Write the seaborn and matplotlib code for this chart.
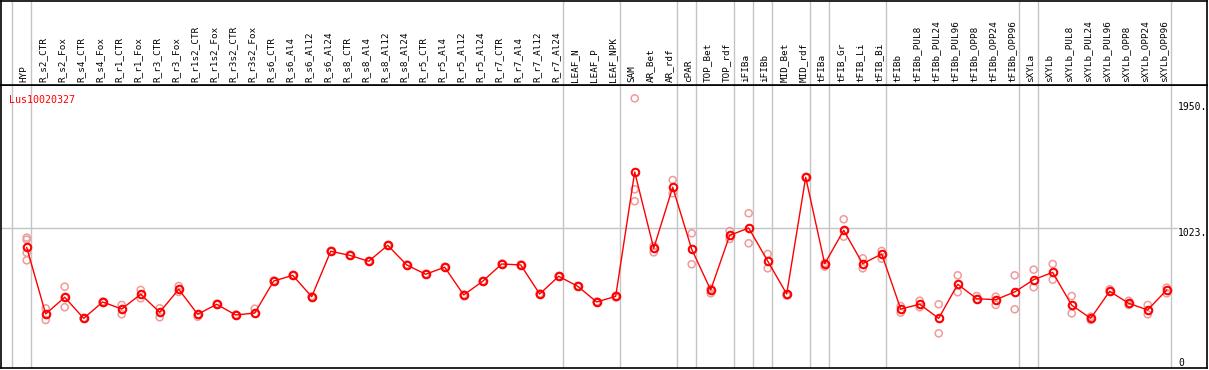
import matplotlib
matplotlib.use("Agg")
import matplotlib.pyplot as plt
import matplotlib.transforms as mtransforms
import seaborn as sns
import numpy as np
import pandas as pd

# sample columns (left to right)
samples = ['HYP', 'R_s2_CTR', 'R_s2_Fox', 'R_s4_CTR', 'R_s4_Fox', 'R_r1_CTR', 'R_r1_Fox',
           'R_r3_CTR', 'R_r3_Fox', 'R_r1s2_CTR', 'R_r1s2_Fox', 'R_r3s2_CTR', 'R_r3s2_Fox',
           'R_s6_CTR', 'R_s6_Al4', 'R_s6_Al12', 'R_s6_Al24', 'R_s8_CTR', 'R_s8_Al4',
           'R_s8_Al12', 'R_s8_Al24', 'R_r5_CTR', 'R_r5_Al4', 'R_r5_Al12', 'R_r5_Al24',
           'R_r7_CTR', 'R_r7_Al4', 'R_r7_Al12', 'R_r7_Al24', 'LEAF_N', 'LEAF_P', 'LEAF_NPK',
           'SAM', 'AR_Bet', 'AR_rdf', 'cPAR', 'TOP_Bet', 'TOP_rdf', 'iFIBa', 'iFIBb',
           'MID_Bet', 'MID_rdf', 'tFIBa', 'tFIB_Gr', 'tFIB_Li', 'tFIB_Bi', 'tFIBb',
           'tFIBb_PUL8', 'tFIBb_PUL24', 'tFIBb_PUL96', 'tFIBb_OPP8', 'tFIBb_OPP24',
           'tFIBb_OPP96', 'sXYLa', 'sXYLb', 'sXYLb_PUL8', 'sXYLb_PUL24', 'sXYLb_PUL96',
           'sXYLb_OPP8', 'sXYLb_OPP24', 'sXYLb_OPP96']

# mean expression per sample
means = [882, 389, 513, 357, 478, 426, 535, 402, 572, 387, 461, 382, 396,
         633, 675, 517, 853, 823, 779, 897, 752, 683, 735, 530, 631,
         759, 752, 537, 668, 594, 478, 520,
         1439, 875, 1326, 868, 567, 971, 1025, 781, 537, 1400,
         761, 1008, 761, 833, 426, 461, 357, 609, 502, 495, 552,
         643, 697, 454, 357, 557, 468, 419, 567]

# replicates (nan = not present)
rep_a = [954, 431, 591, 360, 482, 456, 567, 431, 596, 369, 465, 385, 428,
         636, 678, 520, 856, 826, 782, 900, 755, 686, 738, 533, 634,
         762, 755, 540, 671, 597, 481, 523,
         1984, 892, 1380, 986, 576, 1003, 1134, 833, 525, 1403,
         739, 1090, 801, 855, 448, 487, 461, 675, 522, 517, 675,
         717, 759, 522, 369, 572, 487, 456, 584]
rep_b = [939, 345, 439, 354, 474, 387, 505, 365, 552, 384, 457, 379, 393,
         630, 672, 514, 850, 820, 776, 894, 749, 680, 732, 527, 628,
         756, 749, 534, 665, 591, 475, 512,
         1311, 845, 1282, 757, 542, 944, 912, 727, 534, 1397,
         766, 961, 727, 798, 399, 439, 246, 550, 498, 456, 424,
         587, 643, 394, 345, 554, 456, 387, 542]
rep_c = [842, np.nan, 510] + [np.nan] * 29 + [1223] + [np.nan] * 28
rep_d = [786] + [np.nan] * 60

# group separators drawn after these column indices
group_ends = [-1, 0, 28, 31, 34, 35, 37, 38, 39, 41, 42, 45, 52, 53, 60]
y_ticks = [0, 1023, 1950]
gene = 'Lus10020327'

idx = np.arange(len(samples))
df_mean = pd.DataFrame({'pos': idx, 'value': means})
df_rep = pd.DataFrame({'pos': np.tile(idx, 4),
                       'value': rep_a + rep_b + rep_c + rep_d}).dropna()

sns.set_style('white')
plt.rcParams['font.family'] = ['DejaVu Sans Mono', 'DejaVu Sans']

W, H = 1209, 370
fig = plt.figure(figsize=(W / 100, H / 100), dpi=100)
top_px, bot_px = 85, 368
ax = fig.add_axes([1 / W, (H - bot_px) / H, 1206 / W, (bot_px - top_px) / H])
axh = fig.add_axes([1 / W, (H - top_px) / H, 1206 / W, (top_px - 1) / H], sharex=ax)

grid_c = '#c4c4c4'
for a in (ax, axh):
    for g in group_ends:
        a.axvline(g + 0.21, color=grid_c, lw=1.0, zorder=0)
ax.axhline(1023, xmax=(1177 - 1) / 1206, color=grid_c, lw=1.0, zorder=0)

sns.scatterplot(data=df_rep, x='pos', y='value', ax=ax, marker='o', s=26,
                facecolor='none', edgecolor='#f09a9a', linewidth=1.1, zorder=2)
sns.lineplot(data=df_mean, x='pos', y='value', ax=ax, color='red', lw=1.0,
             marker='o', markersize=5.4, markerfacecolor='none',
             markeredgecolor='red', markeredgewidth=1.5, zorder=3)

ax.set_xlim((1 - 26.7) / 19, (1207 - 26.7) / 19)
ax.set_ylim((366.6 - bot_px) / 0.1352, (366.6 - top_px) / 0.1352)
axh.set_ylim(0, 1)
for a in (ax, axh):
    a.set_xticks([])
    a.set_yticks([])
    a.set_xlabel('')
    a.set_ylabel('')
    for s in a.spines.values():
        s.set_color('black')
        s.set_linewidth(1.2)

# rotated sample names in the header strip
for i, name in enumerate(samples):
    axh.text(i - 0.15, 0.04, name, rotation=90, ha='center', va='bottom',
             fontsize=6.7, color='black')

# value labels on the right
tick_tr = mtransforms.blended_transform_factory(fig.transFigure, ax.transData)
for t in y_ticks:
    label = f'{t}.' if t else '0'
    ax.text(1178 / W, t + (30 if t == 0 else -32), label, transform=tick_tr,
            fontsize=7, va='center', ha='left', color='black')

ax.text(9 / W, 1975, gene, transform=tick_tr, fontsize=7.2, color='red',
        va='center', ha='left')

fig.savefig('out.png', dpi=100)
